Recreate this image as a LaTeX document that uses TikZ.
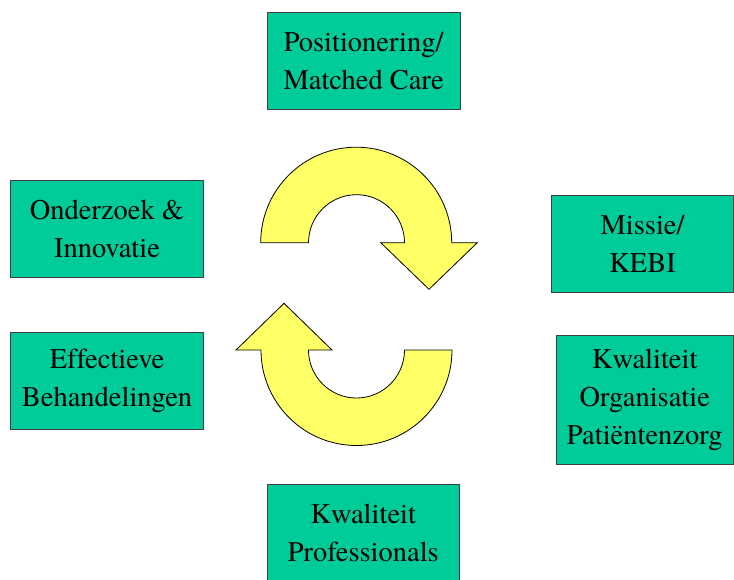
\documentclass[tikz,border=0pt]{standalone}
\usepackage{fontspec}
\setmainfont{TeX Gyre Termes}[Ligatures=NoCommon]
\definecolor{boxgreen}{HTML}{00CC99}
\definecolor{boxline}{HTML}{404040}
\definecolor{arrowyellow}{HTML}{FFFF66}
\begin{document}
\begin{tikzpicture}[x=1pt,y=-1pt,
  greenbox/.style={draw=boxline,line width=1pt,fill=boxgreen,inner sep=0pt,
    align=center,font=\rmfamily\fontsize{28.5}{38}\selectfont},
  cyclearrow/.style={draw=black,line width=0.8pt,fill=arrowyellow,line join=miter}]
\useasboundingbox (0,0) rectangle (734,579);
\fill[white] (0,0) rectangle (734,579);
% boxes
\node[greenbox,minimum width=192.7pt,minimum height=96.6pt] (pos) at (363.65,61) {Positionering/\\Matched Care};
\node[greenbox,minimum width=192.6pt,minimum height=97.3pt] (onder) at (107,228.65) {Onderzoek \&\\Innovatie};
\node[greenbox,minimum width=181.8pt,minimum height=97pt] (missie) at (642.6,244.2) {Missie/\\KEBI};
\node[greenbox,minimum width=192.6pt,minimum height=96.6pt] (eff) at (107,381) {Effectieve\\Behandelingen};
\node[greenbox,minimum width=177.5pt,minimum height=129.3pt] (kwalorg) at (644.75,399.65) {Kwaliteit\\Organisatie\\Patiëntenzorg};
\node[greenbox,minimum width=192pt,minimum height=97pt] (prof) at (363.3,533) {Kwaliteit\\Professionals};
% circular arrows
\coordinate (topc) at (356.5,242.7);
\coordinate (botc) at (356.5,350);
\draw[cyclearrow] (260.7,242.7) arc[start angle=180,end angle=360,radius=95.5]
  -- (477.3,242.7) -- (429,289.3) -- (380.7,242.7) -- (404.5,242.7)
  arc[start angle=360,end angle=180,radius=48] -- cycle;
\draw[cyclearrow] (452,350) arc[start angle=0,end angle=180,radius=95.5]
  -- (236,350) -- (284,303.3) -- (332,350) -- (308.5,350)
  arc[start angle=180,end angle=0,radius=48] -- cycle;
\end{tikzpicture}
\end{document}
